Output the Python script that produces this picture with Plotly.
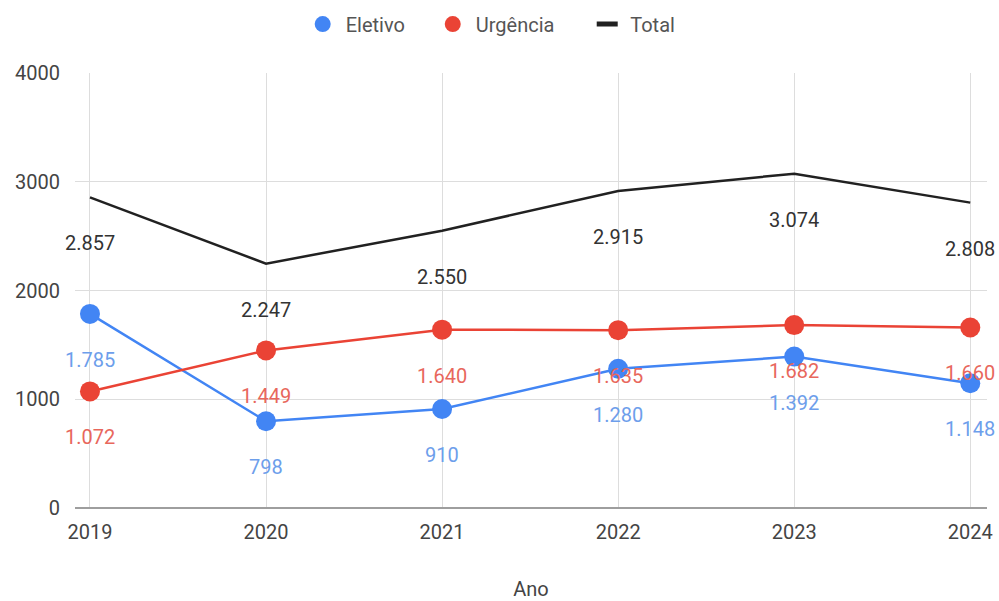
import plotly.graph_objects as go

years = ["2019", "2020", "2021", "2022", "2023", "2024"]
eletivo = [1785, 798, 910, 1280, 1392, 1148]
urgencia = [1072, 1449, 1640, 1635, 1682, 1660]
total = [2857, 2247, 2550, 2915, 3074, 2808]
series_names = ["Eletivo", "Urgência", "Total"]

BLUE = "#4285F4"
RED = "#EA4335"
BLACK = "#212121"
BLUE_LBL = "#6d9eeb"
RED_LBL = "#e8675c"
BLACK_LBL = "#333333"
FONT = "Roboto"
FS = 20
NB = "\u00a0"

def fmt(v):
    return f"{v:,}".replace(",", ".")

fig = go.Figure()
fig.add_trace(go.Scatter(x=years, y=eletivo, name=series_names[0], mode="lines+markers",
                         line=dict(color=BLUE, width=2.5),
                         marker=dict(color=BLUE, size=20), showlegend=False))
fig.add_trace(go.Scatter(x=years, y=urgencia, name=series_names[1], mode="lines+markers",
                         line=dict(color=RED, width=2.5),
                         marker=dict(color=RED, size=20), showlegend=False))
fig.add_trace(go.Scatter(x=years, y=total, name=series_names[2], mode="lines",
                         line=dict(color=BLACK, width=2.5), showlegend=False))
# legend proxies
fig.add_trace(go.Scatter(x=[None], y=[None], name=series_names[0] + NB * 4, mode="markers",
                         marker=dict(color=BLUE, size=17)))
fig.add_trace(go.Scatter(x=[None], y=[None], name=series_names[1] + NB * 5, mode="markers",
                         marker=dict(color=RED, size=17)))
fig.add_trace(go.Scatter(x=[None], y=[None], name=series_names[2], mode="markers",
                         marker=dict(symbol="line-ew", size=15,
                                     line=dict(color=BLACK, width=6))))

annotations = []
for series, color in ((total, BLACK_LBL), (urgencia, RED_LBL), (eletivo, BLUE_LBL)):
    for i, v in enumerate(series):
        annotations.append(dict(x=i, y=v, xref="x", yref="y", text=fmt(v),
                                showarrow=False, yshift=-46,
                                font=dict(family=FONT, size=FS, color=color)))

fig.update_layout(
    width=999, height=601,
    margin=dict(l=75, r=12, t=73, b=93, autoexpand=False),
    paper_bgcolor="white", plot_bgcolor="white",
    font=dict(family=FONT, size=FS, color="#444444"),
    showlegend=True,
    legend=dict(orientation="h", xref="container", yref="container",
                x=0.30, xanchor="left", y=0.96, yanchor="middle",
                font=dict(family=FONT, size=FS, color="#555555"),
                itemsizing="trace", itemwidth=36, traceorder="normal"),
    annotations=annotations,
)
fig.update_xaxes(type="category", range=[-0.085, 5.095], showgrid=True,
                 gridcolor="#dddddd", gridwidth=1, ticks="", showline=False,
                 automargin=False, ticklabelstandoff=10,
                 tickfont=dict(family=FONT, size=FS, color="#444444"),
                 title=dict(text="Ano", font=dict(family=FONT, size=FS, color="#444444"),
                            standoff=41))
fig.update_yaxes(range=[0, 4000], tickvals=[0, 1000, 2000, 3000, 4000], tickformat="d",
                 showgrid=True, gridcolor="#dddddd", gridwidth=1,
                 zeroline=True, zerolinecolor="#9e9e9e", zerolinewidth=2,
                 ticks="", ticklabelstandoff=14, automargin=False,
                 tickfont=dict(family=FONT, size=FS, color="#444444"))

fig.write_html("out.html", config={"displayModeBar": False},
               post_script="document.body.style.margin='0';document.body.style.overflow='hidden';")
